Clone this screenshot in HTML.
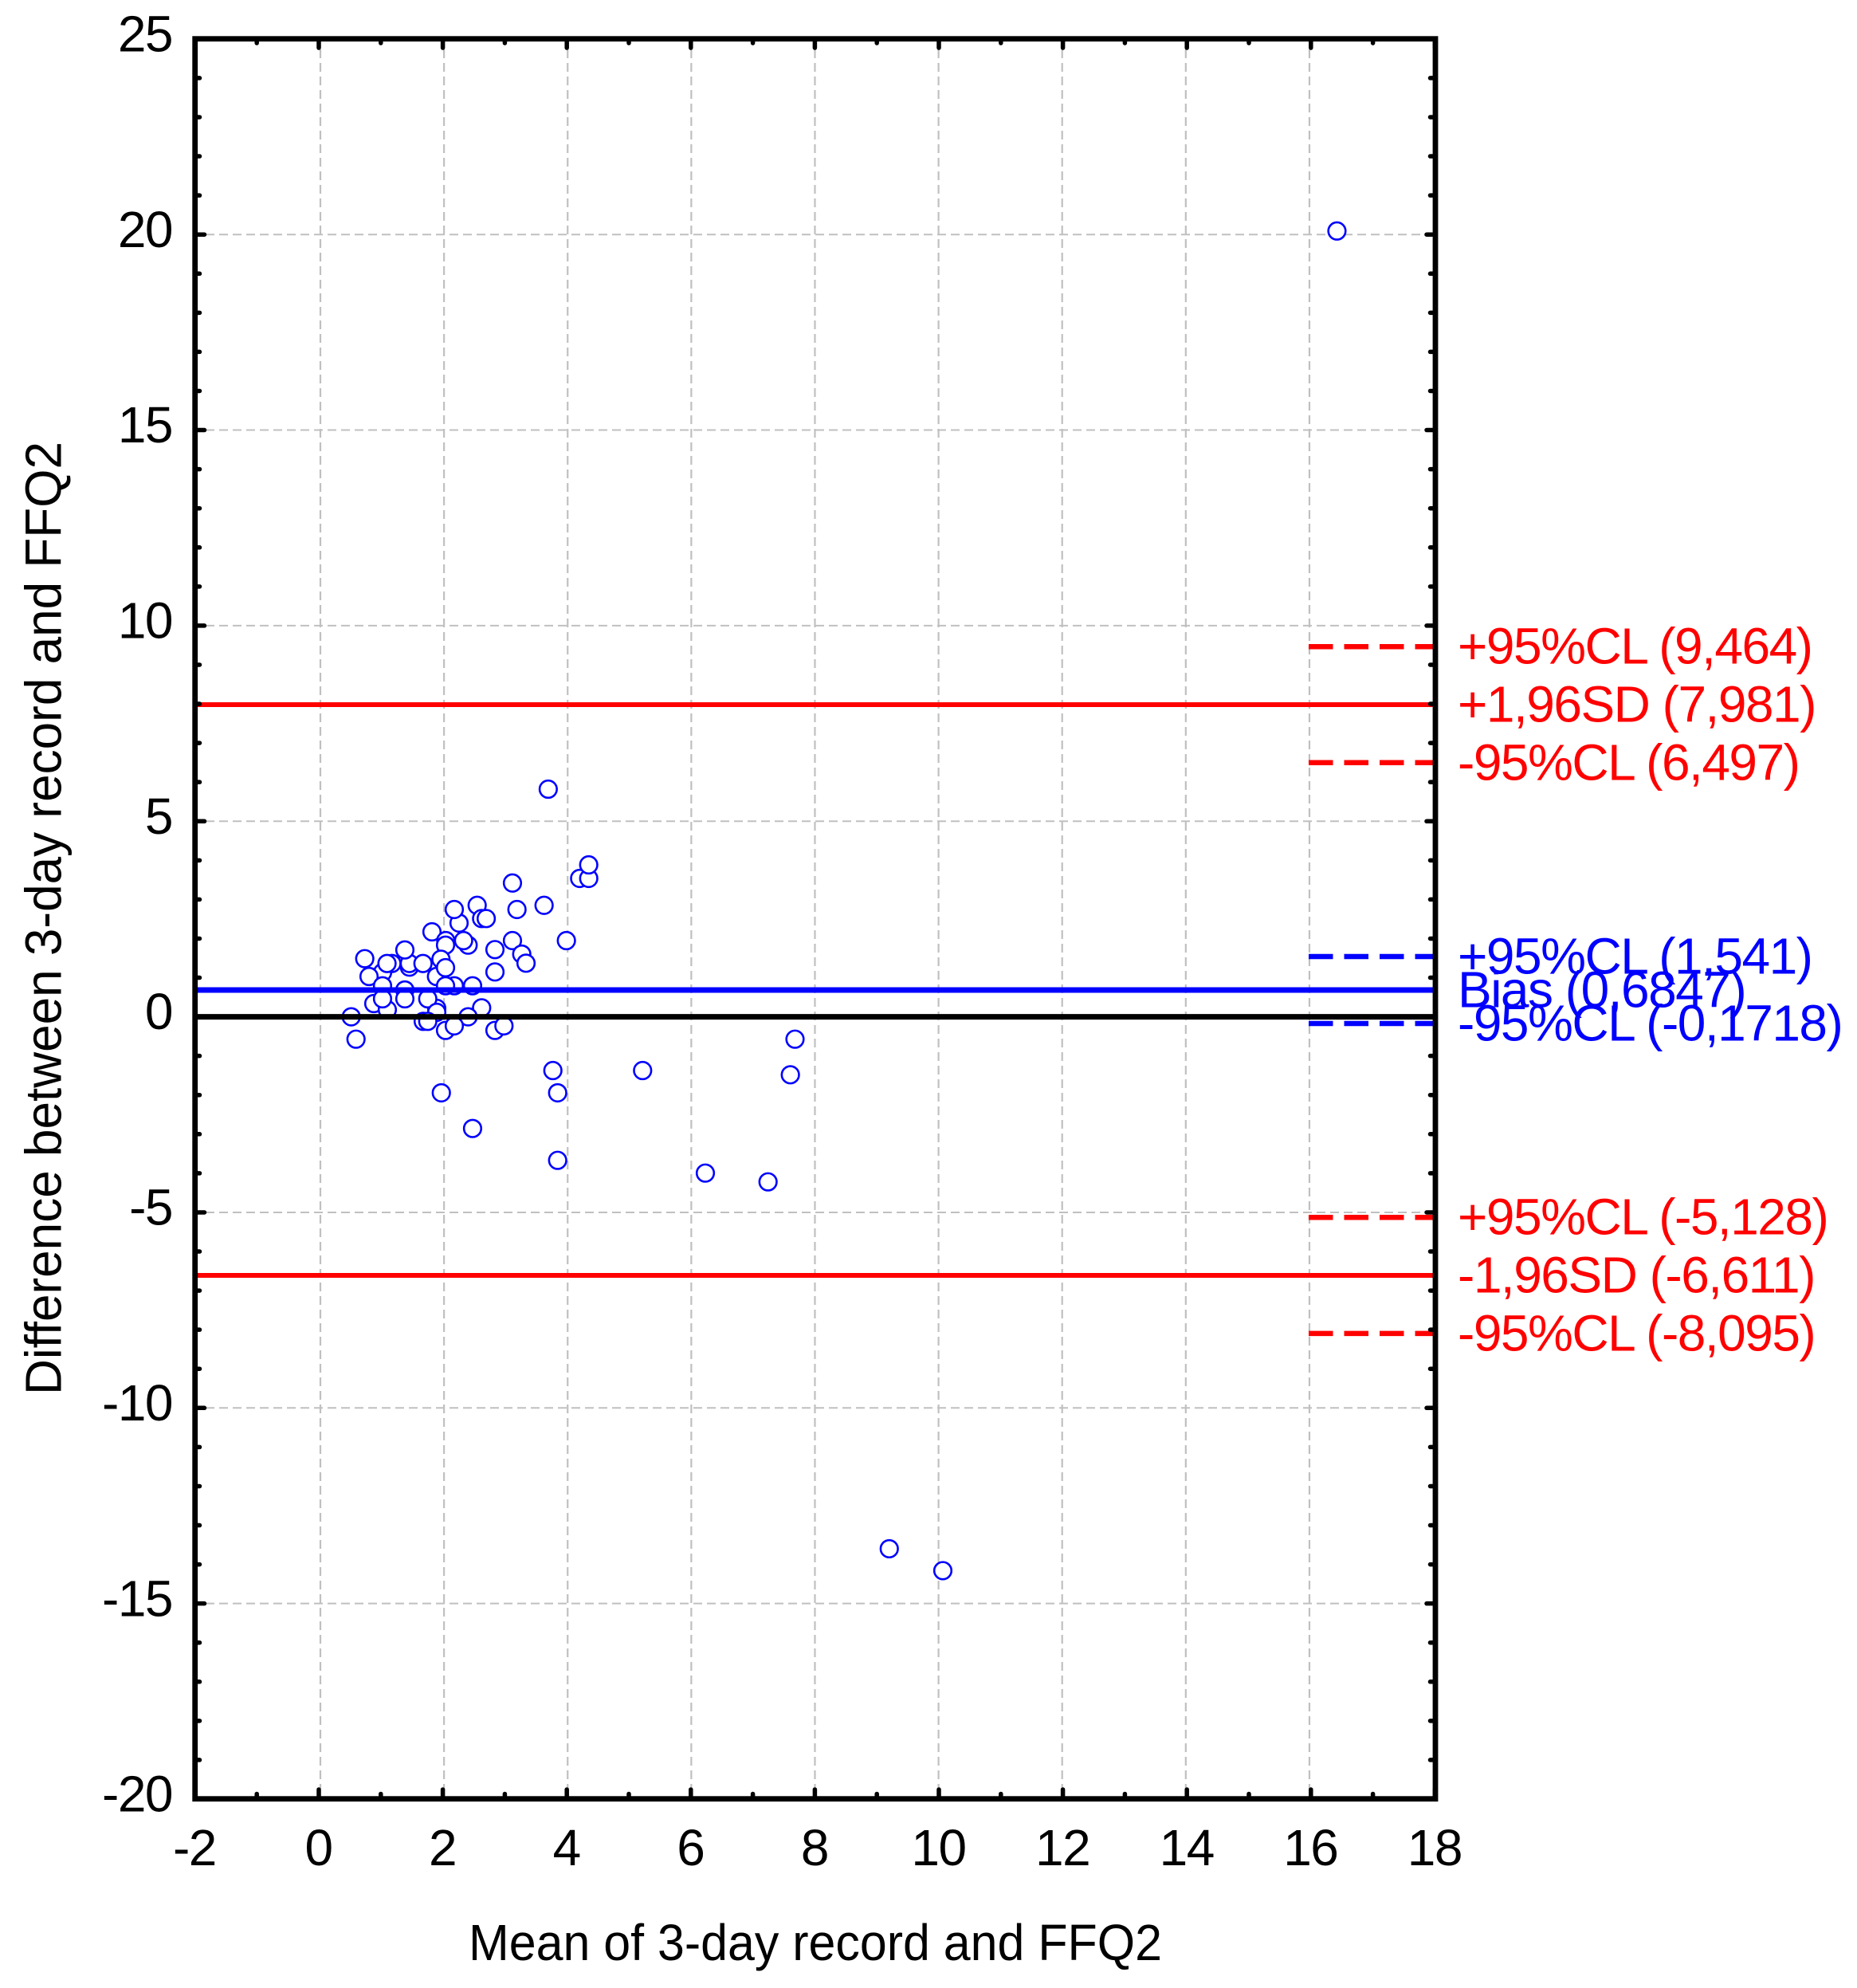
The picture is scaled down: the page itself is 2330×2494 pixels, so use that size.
<!DOCTYPE html>
<html lang="en">
<head>
<meta charset="utf-8">
<title>Bland-Altman plot: 3-day record vs FFQ2</title>
<style>
html,body{margin:0;padding:0;background:#fff;}
svg{display:block;}
text{font-family:"Liberation Sans",Arial,sans-serif;font-size:64px;letter-spacing:-1.5px;}
</style>
</head>
<body>
<svg id="chart" xmlns="http://www.w3.org/2000/svg" width="2330" height="2494" viewBox="0 0 2330 2494">
  <rect x="0" y="0" width="2330" height="2494" fill="#ffffff"/>
  <g id="grid"></g>
  <g id="points"></g>
  <g id="refs"></g>
  <g id="ticks"></g>
  <rect x="244.7" y="48.7" width="1556.3" height="2208" fill="none" stroke="#000" stroke-width="6.8"/>
  <g id="tickLabels"></g>
  <g id="refLabels"></g>
  <text x="588" y="2459" textLength="870" lengthAdjust="spacingAndGlyphs" style="letter-spacing:0">Mean of 3-day record and FFQ2</text>
  <text transform="translate(76.7,1750) rotate(-90)" x="0" y="0" textLength="1196" lengthAdjust="spacingAndGlyphs" style="letter-spacing:0">Difference between 3-day record and FFQ2</text>
</svg>
<script>
var meanValues = [3.70,4.207,4.353,4.353,3.123,2.554,3.633,3.196,2.262,2.185,2.626,2.70,1.825,2.048,2.044,2.408,2.335,2.841,3.123,3.273,3.342,3.993,2.841,1.97,1.898,2.044,1.028,0.81,0.741,1.178,1.10,1.461,1.461,1.388,1.68,1.028,1.388,2.185,2.044,2.48,0.887,1.105,1.028,1.388,1.902,1.757,1.902,2.626,0.523,2.408,1.684,1.757,2.044,2.185,2.841,2.986,0.6,3.775,5.222,1.976,3.852,2.48,3.852,7.68,7.605,6.234,7.245,9.2,10.064,16.42];
var diffValues = [5.82,3.538,3.538,3.884,3.42,2.85,2.85,2.743,2.397,2.743,2.512,2.512,2.172,1.948,1.832,1.832,1.948,1.718,1.948,1.602,1.371,1.948,1.147,1.473,1.031,1.255,1.133,1.031,1.486,1.363,1.363,1.27,1.363,1.71,1.363,0.793,0.685,0.793,0.793,0.793,0.338,0.18,0.46,0.46,0.216,0.46,0.114,0.23,0,0,-0.116,-0.116,-0.348,-0.232,-0.348,-0.232,-0.572,-1.374,-1.374,-1.944,-1.944,-2.855,-3.67,-0.572,-1.482,-3.996,-4.22,-13.6,-14.16,20.09];
var xTickLabels = [-2,0,2,4,6,8,10,12,14,16,18];
var yTickLabels = [25,20,15,10,5,0,-5,-10,-15,-20];
var xMinorTicks = [-1,1,3,5,7,9,11,13,15,17];
var yMinorTicks = [24,23,22,21,19,18,17,16,14,13,12,11,9,8,7,6,4,3,2,1,-1,-2,-3,-4,-6,-7,-8,-9,-11,-12,-13,-14,-16,-17,-18,-19];
var solidRedValues = [7.981,-6.611];
var dashedRedValues = [9.464,6.497,-5.128,-8.095];
var dashedBlueValues = [1.541,-0.1718];
var biasValue = 0.6847;
var zeroValue = 0;
var redLabelTexts = ["+95%CL (9,464)","+1,96SD (7,981)","-95%CL (6,497)","+95%CL (-5,128)","-1,96SD (-6,611)","-95%CL (-8,095)"];
var redLabelValues = [9.464,7.981,6.497,-5.128,-6.611,-8.095];
var blueLabelTexts = ["+95%CL (1,541)","Bias (0,6847)","-95%CL (-0,1718)"];
var blueLabelValues = [1.541,0.6847,-0.1718];

var NS = "http://www.w3.org/2000/svg";
function xScale(v){ return 400 + 77.8 * v; }
function yScale(v){ return 1275.6 - 49.07 * v; }
function gridX(v){ return 402 + 77.56 * v; }
function make(tag, parentId, attrs){
  var el = document.createElementNS(NS, tag);
  for (var k in attrs) { el.setAttribute(k, attrs[k]); }
  document.getElementById(parentId).appendChild(el);
  return el;
}

// grid lines
xTickLabels.forEach(function(v){
  if (v <= -2 || v >= 18) return;
  var el = make("line", "grid", {x1: gridX(v), x2: gridX(v), y1: 62, y2: 2244, stroke: "#c0c0c0", "stroke-width": 2.2, "stroke-dasharray": "11 6"});
  
  
});
yTickLabels.forEach(function(v){
  if (v >= 25 || v <= -20) return;
  var el = make("line", "grid", {x1: 258, x2: 1788, y1: yScale(v), y2: yScale(v), stroke: "#c0c0c0", "stroke-width": 2, "stroke-dasharray": "11 6"});
  
  
});

// data points
meanValues.forEach(function(m, i){
  var el = make("circle", "points", {cx: xScale(m), cy: yScale(diffValues[i]), r: 10.8, fill: "#ffffff", stroke: "#0000ff", "stroke-width": 2.6});
  
  
});

// reference lines
function solidLine(v, color, width, name){
  var el = make("line", "refs", {x1: 248, x2: 1798, y1: yScale(v), y2: yScale(v), stroke: color, "stroke-width": width});
  
  
}
function dashedLine(v, color, name){
  var el = make("line", "refs", {x1: 1642, x2: 1798, y1: yScale(v), y2: yScale(v), stroke: color, "stroke-width": 6.5, "stroke-dasharray": "30.5 14"});
  
  
}
solidRedValues.forEach(function(v){ solidLine(v, "#ff0000", 6, "limit-of-agreement-line"); });
solidLine(biasValue, "#0000ff", 7, "bias-line");
solidLine(zeroValue, "#000000", 7, "zero-line");
dashedRedValues.forEach(function(v){ dashedLine(v, "#ff0000", "limit-confidence-line"); });
dashedBlueValues.forEach(function(v){ dashedLine(v, "#0000ff", "bias-confidence-line"); });

// ticks
function tickLine(x1, y1, x2, y2, name){
  var el = make("line", "ticks", {x1: x1, y1: y1, x2: x2, y2: y2, stroke: "#000", "stroke-width": 5.5, "stroke-linecap": "round"});
  
  
}
xTickLabels.forEach(function(v){
  var x = xScale(v);
  tickLine(x, 49, x, 60, "x-major-tick-top");
  tickLine(x, 2257, x, 2245, "x-major-tick-bottom");
});
xMinorTicks.forEach(function(v){
  var x = xScale(v);
  tickLine(x, 49, x, 54, "x-minor-tick-top");
  tickLine(x, 2257, x, 2250.5, "x-minor-tick-bottom");
});
yTickLabels.forEach(function(v){
  var y = yScale(v);
  tickLine(245, y, 256.5, y, "y-major-tick-left");
  tickLine(1801, y, 1790, y, "y-major-tick-right");
});
yMinorTicks.forEach(function(v){
  var y = yScale(v);
  tickLine(245, y, 250.5, y, "y-minor-tick-left");
  tickLine(1801, y, 1794.5, y, "y-minor-tick-right");
});

// tick labels
xTickLabels.forEach(function(v){
  var el = make("text", "tickLabels", {x: xScale(v) - 0.5, y: 2340, "text-anchor": "middle"});
  el.textContent = String(v);
  
  
});
yTickLabels.forEach(function(v){
  var el = make("text", "tickLabels", {x: 216, y: yScale(v) + 15.6, "text-anchor": "end"});
  el.textContent = String(v);
  
  
});

// reference labels
redLabelTexts.forEach(function(t, i){
  var el = make("text", "refLabels", {x: 1829, y: yScale(redLabelValues[i]) + 21.5, fill: "#ff0000"});
  el.textContent = t;
  
  
});
blueLabelTexts.forEach(function(t, i){
  var el = make("text", "refLabels", {x: 1829, y: yScale(blueLabelValues[i]) + 21.5, fill: "#0000ff"});
  el.textContent = t;
  
  
});
</script>
</body>
</html>
